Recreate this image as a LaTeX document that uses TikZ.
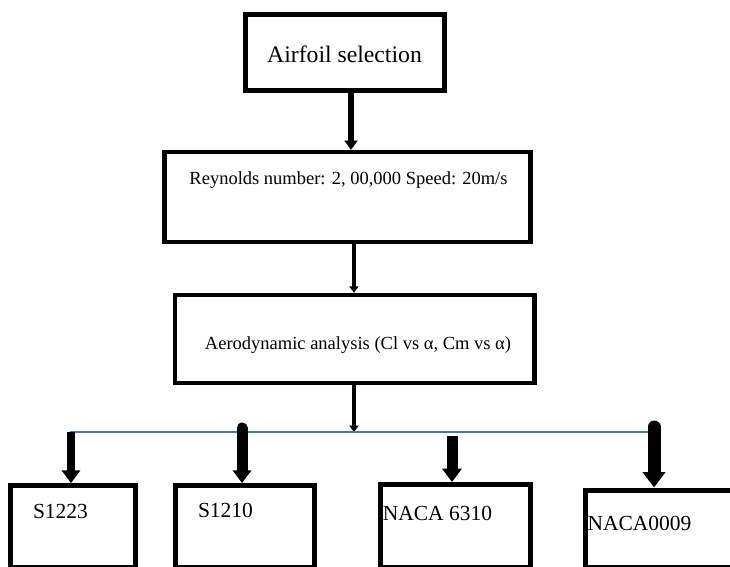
\documentclass[tikz,border=0pt]{standalone}
\usepackage{fontspec}
\setmainfont{Liberation Serif}
\usetikzlibrary{arrows.meta}
\begin{document}
\begin{tikzpicture}[x=1pt,y=-1pt,
  rbox/.style={draw=black, line width=5pt, rectangle, inner sep=0pt, fill=white},
  txt/.style={inner sep=0pt, anchor=base},
  bigtxt/.style={txt, font=\fontsize{23.7}{28}\selectfont},
  midtxt/.style={txt, font=\fontsize{18.5}{22}\selectfont},
  lowtxt/.style={txt, font=\fontsize{21.5}{25}\selectfont},
  flow/.style={draw=black, -{Triangle[width=#1, length=0.7*#1]}},
  bus/.style={draw={rgb,255:red,68;green,114;blue,196}, line width=1.6pt}
]
\path[use as bounding box, clip] (0,0) rectangle (730,566);
\fill[white] (0,0) rectangle (730,566);

% boxes
\node[rbox, minimum width=199pt, minimum height=76pt] (b1) at (345,52.5) {};
\node[rbox, minimum width=366pt, minimum height=90pt, line width=4.5pt] (b2) at (347.5,197) {};
\node[rbox, minimum width=359.5pt, minimum height=88pt, line width=4.5pt] (b3) at (354.75,339) {};
\node[rbox, minimum width=125pt, minimum height=81.5pt] (s1) at (73,526.25) {};
\node[rbox, minimum width=139pt, minimum height=81.5pt] (s2) at (245,526.25) {};
\node[rbox, minimum width=150pt, minimum height=82.5pt] (s3) at (455.5,525.75) {};
\node[rbox, minimum width=174.5pt, minimum height=77pt] (s4) at (672.75,528.5) {};

% texts
\node[bigtxt] (t1) at (344.5,62) {Airfoil selection};
\node[midtxt] (t2) at (348.5,184) {Reynolds number: 2, 00,000 Speed: 20m/s};
\node[midtxt] (t3) at (358,349) {Aerodynamic analysis (Cl vs α, Cm vs α)};
\node[lowtxt] (t4) at (60.5,518) {S1223};
\node[lowtxt] (t5) at (225.5,517) {S1210};
\node[lowtxt] (t6) at (437.5,520) {NACA 6310};
\node[lowtxt] (t7) at (639.5,530) {NACA0009};

% connector anchors
\coordinate (c1) at (351,0);
\coordinate (c2) at (354,0);
\coordinate (L) at (70,432);
\coordinate (R) at (661,432);
\coordinate (j1) at (71,432);
\coordinate (j2) at (242,428);
\coordinate (j3) at (452,436);
\coordinate (j4) at (654,427);

% upper arrows
\draw[flow=13pt, line width=6pt] (c1 |- b1.south) -- (c1 |- b2.north);
\draw[flow=9pt, line width=3.5pt] (c2 |- b2.south) -- (c2 |- b3.north);
\draw[flow=9pt, line width=3.5pt] (c2 |- b3.south) -- (c2 |- L);

% bus line
\draw[bus] (L) -- (R);

% lower arrows
\draw[flow=18pt, line width=8pt] (j1) -- (j1 |- s1.north);
\draw[flow=18pt, line width=11pt, line cap=round] (j2) -- (j2 |- s2.north);
\draw[flow=19pt, line width=11pt] (j3) -- (j3 |- s3.north);
\draw[flow=22pt, line width=13pt, line cap=round] (j4) -- (j4 |- s4.north);
\end{tikzpicture}
\end{document}
